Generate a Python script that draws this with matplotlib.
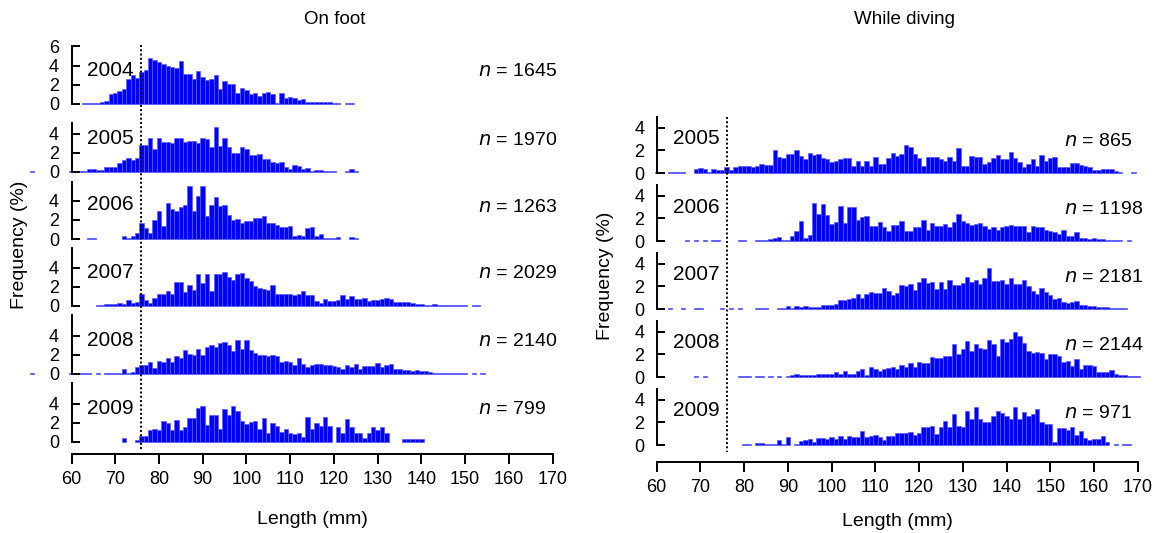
import numpy as np
import matplotlib
matplotlib.use("Agg")
import matplotlib.pyplot as plt
from matplotlib.lines import Line2D

plt.rcParams['font.family'] = ['Liberation Sans', 'DejaVu Sans']

# ---------------- data (percent of fish per 1-mm length class) ----------------
years_foot = [2004, 2005, 2006, 2007, 2008, 2009]
n_foot = [1645, 1970, 1263, 2029, 2140, 799]
years_dive = [2005, 2006, 2007, 2008, 2009]
n_dive = [865, 1198, 2181, 2144, 971]

foot_2004_start = 62
foot_2004 = [0, 0.06, 0.06, 0.06, 0.15, 0.25, 0.35, 1.0, 1.1, 1.4, 1.6, 2.6, 3.0, 2.7, 3.3,
             3.5, 4.8, 4.6, 4.4, 4.2, 4.0, 3.9, 3.8, 4.5, 3.1, 3.1, 2.6, 3.4, 2.8, 2.5, 2.6,
             3.0, 1.6, 2.4, 2.1, 2.1, 1.1, 1.7, 1.5, 1.0, 1.1, 0.8, 1.1, 1.3, 1.0, 0.1, 1.1,
             0.6, 0.7, 0.6, 0.4, 0.5, 0.2, 0.2, 0.2, 0.2, 0.25, 0.25, 0.06, 0.06, 0, 0.06, 0.06]

foot_2005_start = 51
foot_2005 = [0.06, 0, 0, 0, 0, 0, 0, 0, 0,
             0.06, 0, 0.12, 0.15, 0.3, 0.3, 0.25, 0.25, 0.5, 0.5, 0.5, 0.9, 1.2, 1.45, 1.3, 1.5,
             2.8, 2.8, 3.5, 2.4, 3.5, 3.1, 3.1, 3.0, 3.5, 3.5, 3.1, 3.2, 3.2, 3.0, 3.5, 3.4,
             2.6, 4.7, 2.7, 3.5, 2.6, 2.0, 2.0, 2.6, 2.4, 1.8, 1.8, 1.9, 1.4, 1.4, 1.0, 0.9,
             1.0, 0.5, 0.3, 0.7, 0.6, 0.35, 0.45, 0.15, 0.2, 0.2, 0.15, 0.15, 0.15, 0, 0,
             0.1, 0.35, 0.06]

foot_2006_start = 64
foot_2006 = [0.08, 0.08, 0, 0, 0, 0, 0, 0, 0.3, 0.08, 0.35, 0.6, 1.7, 1.1, 0.6, 2.0, 2.9,
             1.4, 3.8, 3.1, 2.9, 3.3, 3.5, 5.5, 2.9, 4.5, 5.5, 2.4, 3.5, 4.4, 3.4, 3.5, 2.5,
             2.0, 2.1, 1.7, 1.9, 1.9, 2.2, 2.2, 2.4, 1.7, 1.7, 1.5, 1.3, 1.3, 1.4, 0.3, 0.4,
             0.3, 1.1, 1.3, 0.35, 0.5, 0.15, 0.15, 0.1, 0.2, 0, 0, 0.2, 0.1]

foot_2007_start = 66
foot_2007 = [0.15, 0.15, 0.2, 0.2, 0.2, 0.3, 0.2, 0.6, 0.3, 0.4, 1.3, 0.6, 0.3, 0.8, 1.3,
             1.3, 1.6, 1.3, 2.5, 2.5, 1.5, 2.2, 1.7, 3.3, 2.4, 3.3, 1.6, 3.3, 3.3, 3.5, 3.0,
             2.7, 3.3, 3.4, 2.9, 2.6, 2.1, 1.9, 1.8, 1.7, 2.2, 1.3, 1.3, 1.3, 1.3, 1.1, 1.3,
             1.6, 1.1, 1.1, 0.5, 0.3, 0.7, 0.5, 0.5, 0.6, 1.1, 0.7, 1.0, 0.7, 0.7, 0.8, 0.5,
             0.6, 0.6, 0.7, 0.8, 0.7, 0.4, 0.4, 0.4, 0.4, 0.3, 0.2, 0.2, 0.15, 0.15, 0.2,
             0.15, 0.1, 0.1, 0.06, 0.1, 0.06, 0.06, 0, 0.1, 0.1]

foot_2008_start = 51
foot_2008 = [0.06, 0, 0, 0, 0, 0, 0, 0, 0,
             0.06, 0.1, 0.12, 0.1, 0.06, 0, 0.06, 0, 0.06, 0.08, 0.08, 0.12, 0.5, 0.1, 0.2,
             0.7, 0.9, 0.9, 1.3, 0.6, 1.4, 1.2, 1.7, 1.2, 1.9, 1.7, 2.5, 2.1, 2.0, 2.6, 2.0,
             2.8, 3.0, 2.8, 3.2, 3.3, 3.0, 2.4, 3.5, 2.6, 3.5, 2.5, 2.2, 2.0, 2.0, 1.9, 2.0,
             1.9, 1.3, 1.4, 1.3, 0.9, 1.7, 1.0, 0.7, 0.9, 1.0, 1.0, 0.9, 0.9, 0.8, 0.7, 0.5,
             0.9, 0.7, 1.0, 0.5, 0.8, 0.8, 0.8, 1.1, 0.7, 0.9, 1.0, 0.5, 0.5, 0.4, 0.4, 0.3,
             0.4, 0.3, 0.3, 0.2, 0.15, 0.15, 0.15, 0.1, 0.1, 0.1, 0.1, 0.06, 0, 0.06, 0, 0.06]

foot_2009_start = 72
foot_2009 = [0.4, 0, 0, 0.2, 0.6, 0.6, 1.2, 1.4, 1.3, 2.2, 2.0, 1.3, 2.3, 1.3, 1.6, 2.5, 2.5,
             3.5, 3.8, 1.8, 2.8, 2.8, 1.4, 3.4, 2.8, 3.7, 3.2, 2.2, 1.9, 2.1, 2.2, 1.4, 2.5,
             0.9, 2.0, 1.7, 1.0, 1.4, 0.9, 0.8, 0.9, 0.5, 2.6, 1.4, 2.0, 1.7, 2.6, 1.7, 0,
             1.6, 0.9, 2.4, 1.6, 0.9, 0.9, 0.4, 0.9, 1.6, 1.3, 1.6, 0.9, 0, 0, 0, 0.35, 0.35,
             0.35, 0.35, 0.35]

dive_2005_start = 60
dive_2005 = [0.12, 0.12, 0, 0.12, 0.12, 0.12, 0.12, 0, 0, 0.35, 0.45, 0.35, 0.1, 0.35, 0.3,
             0.3, 0.5, 0.25, 0.5, 0.6, 0.6, 0.6, 0.5, 0.6, 0.8, 0.7, 0.7, 2.0, 1.4, 1.3, 1.7,
             1.7, 2.0, 1.5, 1.2, 1.8, 1.6, 1.7, 1.3, 1.2, 1.0, 1.1, 1.2, 1.3, 1.3, 0.6, 1.1,
             0.6, 1.1, 0.6, 1.4, 0.8, 0.8, 1.3, 1.8, 1.5, 1.7, 2.5, 2.3, 1.7, 1.3, 0.6, 1.4,
             1.4, 1.4, 1.2, 1.1, 1.4, 1.1, 2.2, 0.6, 0.6, 1.5, 1.4, 1.4, 0.8, 1.0, 1.3, 1.6,
             1.2, 1.2, 1.9, 1.3, 1.0, 0.5, 0.8, 1.2, 0.6, 1.6, 1.1, 1.3, 1.4, 0.5, 0.5, 0.5,
             0.9, 0.9, 0.7, 0.6, 0.5, 0.3, 0.3, 0.35, 0.35, 0.35, 0.2, 0.12, 0, 0, 0.12]

dive_2006_start = 66
dive_2006 = [0, 0.08, 0, 0.08, 0, 0.08, 0, 0.08, 0.08, 0, 0, 0, 0, 0.08, 0.08, 0, 0, 0.08,
             0.08, 0.08, 0.2, 0.3, 0.35, 0.1, 0.1, 0.4, 0.9, 1.8, 0.3, 0.5, 3.4, 2.4, 3.3,
             2.3, 1.5, 1.7, 3.1, 1.6, 3.0, 3.0, 1.9, 2.1, 2.2, 1.3, 1.3, 1.7, 1.2, 0.9, 1.4,
             1.4, 1.8, 0.9, 0.9, 1.2, 1.2, 1.9, 1.0, 1.6, 1.3, 1.3, 1.5, 1.2, 1.7, 2.4, 1.8,
             1.6, 1.4, 1.5, 1.6, 1.3, 1.1, 1.2, 1.0, 1.2, 1.3, 1.4, 1.3, 1.3, 1.3, 0.8, 1.3,
             1.2, 1.2, 1.0, 0.9, 0.8, 0.6, 1.0, 0.4, 0.4, 0.8, 0.3, 0.3, 0.2, 0.25, 0.2, 0.2,
             0.1, 0.1, 0.08, 0.08, 0, 0.08]

dive_2007_start = 61
dive_2007 = [0.05, 0, 0.05, 0, 0, 0.05, 0, 0, 0.05, 0.05, 0, 0, 0, 0, 0.05, 0, 0.05, 0,
             0.05, 0, 0, 0, 0.05, 0.05, 0.05, 0, 0,
             0.1, 0.1, 0.3, 0.1, 0.25, 0.15, 0.3, 0.2, 0.2, 0.2, 0.35, 0.35, 0.35, 0.4, 0.8,
             0.8, 0.85, 1.0, 1.3, 1.0, 1.3, 1.5, 1.45, 1.4, 1.9, 1.6, 1.2, 1.4, 2.1, 2.0, 2.2,
             1.7, 2.4, 2.7, 2.3, 2.4, 1.8, 2.4, 1.8, 2.6, 2.1, 2.1, 2.3, 2.8, 2.4, 2.6, 2.2,
             2.7, 3.6, 2.5, 2.5, 2.6, 2.2, 2.7, 2.2, 2.2, 2.6, 2.0, 1.6, 1.3, 1.9, 1.5, 1.2,
             0.9, 1.0, 0.6, 0.5, 0.6, 0.7, 0.35, 0.35, 0.25, 0.25, 0.2, 0.2, 0.15, 0.1, 0.1,
             0.1, 0.05]

dive_2008_start = 69
dive_2008 = [0.05, 0, 0.05, 0, 0, 0, 0, 0, 0, 0, 0.05, 0.05, 0.05, 0, 0.05, 0.05, 0, 0.05,
             0, 0.05, 0,
             0.1, 0.15, 0.3, 0.2, 0.2, 0.15, 0.2, 0.3, 0.3, 0.25, 0.3, 0.4, 0.3, 0.55, 0.3,
             0.3, 0.5, 0.7, 0.2, 0.9, 0.7, 0.5, 0.7, 0.8, 0.9, 0.75, 1.1, 0.9, 1.2, 0.9, 1.3,
             1.2, 1.2, 1.8, 1.7, 1.7, 1.9, 1.9, 2.9, 2.0, 2.5, 3.2, 2.3, 2.9, 2.6, 2.5, 3.3,
             2.9, 1.9, 3.4, 3.1, 3.4, 4.0, 3.6, 3.0, 2.3, 2.1, 2.2, 2.1, 1.6, 2.0, 2.0, 1.9,
             1.3, 1.4, 1.0, 1.6, 0.7, 1.1, 1.1, 1.0, 0.4, 0.4, 0.4, 0.6, 0.3, 0.2, 0.15, 0.1,
             0.1, 0.05]

dive_2009_start = 80
dive_2009 = [0.1, 0.1, 0, 0.15, 0.15, 0.1, 0.1, 0.1, 0.4, 0.1, 0.7, 0, 0.1, 0.35, 0.4, 0.5,
             0.3, 0.6, 0.6, 0.5, 0.7, 0.5, 0.8, 0.5, 0.8, 0.7, 0.7, 1.2, 0.7, 0.8, 0.9, 0.7,
             0.4, 0.8, 0.8, 1.1, 1.1, 1.1, 1.15, 0.9, 1.1, 1.6, 1.6, 1.7, 1.0, 1.6, 2.1, 1.6,
             2.7, 1.7, 1.6, 3.0, 2.3, 3.4, 2.3, 2.0, 2.0, 2.6, 3.0, 2.8, 2.6, 2.3, 3.4, 2.3,
             2.9, 2.6, 2.7, 3.2, 2.0, 1.9, 1.9, 0.3, 1.5, 1.5, 1.3, 1.6, 0.9, 1.2, 0.6, 0.4,
             0.5, 0.5, 0.8, 0.3, 0, 0.1, 0, 0.1, 0.1]

foot_series = [(foot_2004_start, foot_2004), (foot_2005_start, foot_2005),
               (foot_2006_start, foot_2006), (foot_2007_start, foot_2007),
               (foot_2008_start, foot_2008), (foot_2009_start, foot_2009)]
dive_series = [(dive_2005_start, dive_2005), (dive_2006_start, dive_2006),
               (dive_2007_start, dive_2007), (dive_2008_start, dive_2008),
               (dive_2009_start, dive_2009)]

x_ticks = list(range(60, 171, 10))
min_legal_size = 76

# ---------------- layout (pixels) ----------------
W, H = 1160, 533
fig = plt.figure(figsize=(W / 100, H / 100), dpi=100)


def frac(x0, ytop, w, h):
    return [x0 / W, 1 - (ytop + h) / H, w / W, h / H]


def ptext(x, y, s, **kw):
    fig.text(x / W, 1 - y / H, s, **kw)


BAR_FC = '#0000ff'
BAR_EC = '#5a5aff'
TXT = 13.5
PANEL_W = 481.0
PX_MM = PANEL_W / 110

left_zeros = [104, 172, 239, 306, 374, 442]
right_zeros = [173, 241, 309, 377, 445]
L_X0, R_X0 = 71.5, 656.7

left_yt = [[0, 2, 4, 6]] + [[0, 2, 4]] * 5
right_yt = [[0, 2, 4]] * 5


def build(x0, zeros, scale, ylim_top, spine_tops, series, years, ns, yts, n_x):
    axs = []
    for i, ((start, vals), yr, n) in enumerate(zip(series, years, ns)):
        h = ylim_top * scale
        ax = fig.add_axes(frac(x0, zeros[i] - h, PANEL_W, h))
        ax.patch.set_alpha(0)
        lengths = np.arange(start, start + len(vals))
        v = np.asarray(vals, dtype=float)
        m = v > 0
        ax.bar(lengths[m], v[m], width=1.0, align='center', color=BAR_FC,
               edgecolor=BAR_EC, linewidth=0.5, clip_on=False)
        ax.set_xlim(60, 170)
        ax.set_ylim(0, ylim_top)
        for s in ['top', 'right', 'bottom']:
            ax.spines[s].set_visible(False)
        ax.spines['left'].set_bounds(0, spine_tops[i])
        ax.spines['left'].set_linewidth(1.4)
        ax.set_xticks([])
        ax.set_yticks(yts[i])
        ax.tick_params(axis='y', direction='in', length=6, width=1.4, pad=9,
                       labelsize=TXT - 0.5)
        ptext(x0 + 16, zeros[i] - 34, str(yr), fontsize=TXT + 1.5, va='center', ha='left')
        ptext(n_x, zeros[i] - 32, r'$\it{n}$' + ' = %d' % n, fontsize=TXT + 0.5,
              va='center', ha='left')
        axs.append(ax)
    return axs


foot_axes = build(L_X0, left_zeros, 9.6, 6.5, [6, 5.1, 5.9, 6.0, 6.1, 6.1],
                  foot_series, years_foot, n_foot, left_yt, 478)
dive_axes = build(R_X0, right_zeros, 11.3, 5.6, [5.0] * 5,
                  dive_series, years_dive, n_dive, right_yt, 1064)


def xaxis(x0, yline):
    ax = fig.add_axes(frac(x0, yline - 1, PANEL_W, 1))
    ax.patch.set_alpha(0)
    ax.set_xlim(60, 170)
    ax.set_yticks([])
    for s in ['top', 'right', 'left']:
        ax.spines[s].set_visible(False)
    ax.spines['bottom'].set_linewidth(1.4)
    ax.set_xticks(x_ticks)
    ax.tick_params(axis='x', direction='out', length=7, width=1.4, pad=5,
                   labelsize=TXT - 0.5)
    return ax


xl = xaxis(L_X0, 454)
xr = xaxis(R_X0, 462)

# dotted reference line at minimum legal size
for x0, y0, y1 in [(L_X0, 45, 450), (R_X0, 117, 452)]:
    xp = x0 + (min_legal_size - 60) * PX_MM
    fig.add_artist(Line2D([xp / W, xp / W], [1 - y0 / H, 1 - y1 / H], color='black',
                          linewidth=1.4, linestyle=(0, (1, 1.2))))

ptext(335, 20, 'On foot', fontsize=TXT, ha='center', va='center')
ptext(905, 20, 'While diving', fontsize=TXT, ha='center', va='center')
ptext(312, 519, 'Length (mm)', fontsize=TXT + 0.5, ha='center', va='center')
ptext(897, 522, 'Length (mm)', fontsize=TXT + 0.5, ha='center', va='center')
ptext(20, 245, 'Frequency (%)', fontsize=TXT + 0.5, ha='center', va='center', rotation=90)
ptext(606, 276, 'Frequency (%)', fontsize=TXT + 0.5, ha='center', va='center', rotation=90)

fig.savefig('out.png', dpi=100)
